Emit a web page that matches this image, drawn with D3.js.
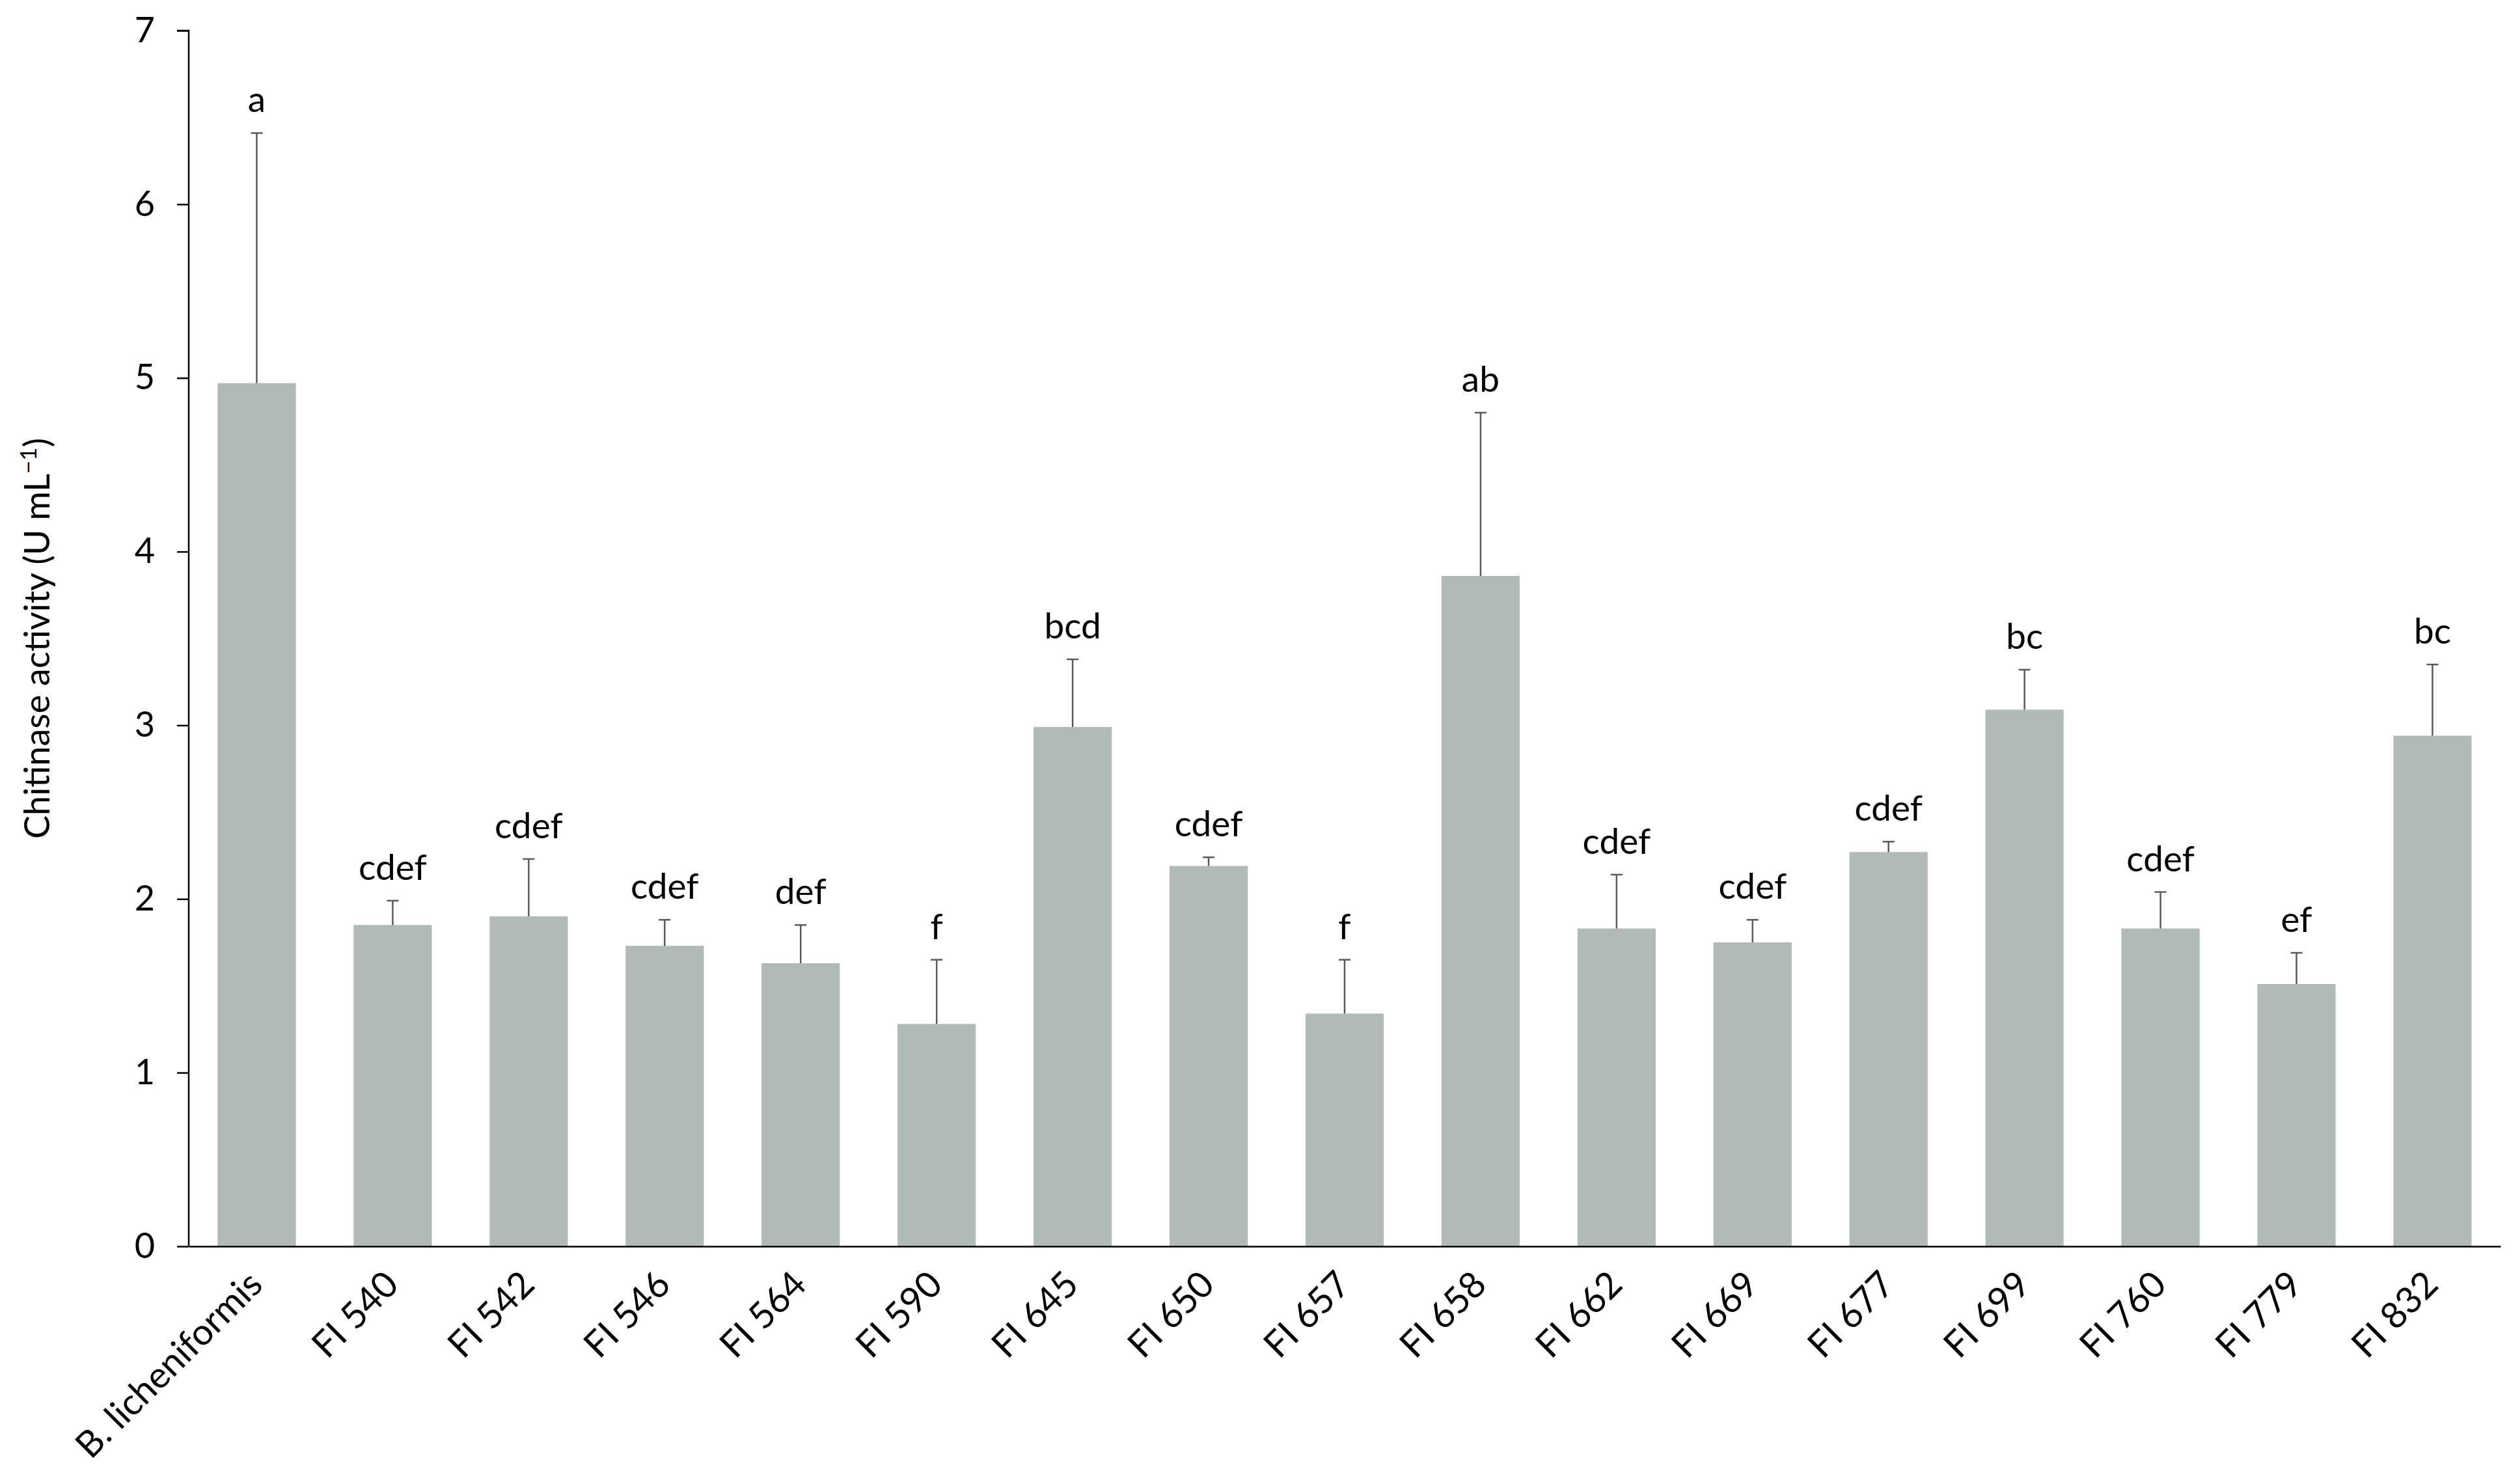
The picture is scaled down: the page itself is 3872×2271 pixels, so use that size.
<!DOCTYPE html>
<html>
<head>
<meta charset="utf-8">
<script src="https://cdn.jsdelivr.net/npm/d3@7"></script>
<style>
  body { margin: 0; background: #fff; }
  svg { display: block; }
  text { font-family: Lato, "Open Sans", sans-serif; fill: #000; }
</style>
</head>
<body>
<div id="chart"></div>
<script>
// strains on the x axis
var strains = ["B. licheniformis", "FI 540", "FI 542", "FI 546", "FI 564", "FI 590", "FI 645", "FI 650",
  "FI 657", "FI 658", "FI 662", "FI 669", "FI 677", "FI 699", "FI 760", "FI 779", "FI 832"];
// mean chitinase activity (U mL-1)
var activity = [4.97, 1.85, 1.90, 1.73, 1.63, 1.28, 2.99, 2.19, 1.34, 3.86, 1.83, 1.75, 2.27, 3.09, 1.83, 1.51, 2.94];
// standard deviation (upper bar only)
var sd = [1.44, 0.14, 0.33, 0.15, 0.22, 0.37, 0.39, 0.05, 0.31, 0.94, 0.31, 0.13, 0.06, 0.23, 0.21, 0.18, 0.41];
// significance letters
var groups = ["a", "cdef", "cdef", "cdef", "def", "f", "bcd", "cdef", "f", "ab", "cdef", "cdef", "cdef", "bc", "cdef", "ef", "bc"];
var yTicks = [0, 1, 2, 3, 4, 5, 6, 7];

var W = 3872, H = 2271;
var margin = { top: 47, right: 30, bottom: 356, left: 290 };
var width = W - margin.left - margin.right;
var height = H - margin.top - margin.bottom;

var data = strains.map(function (s, i) {
  return { name: s, value: activity[i], sd: sd[i], group: groups[i] };
});

var svg = d3.select("#chart").append("svg")
  .attr("width", W)
  .attr("height", H);

var g = svg.append("g")
  .attr("transform", "translate(" + margin.left + "," + margin.top + ")");

var x = d3.scaleBand()
  .domain(strains)
  .range([0, width])
  .paddingInner(0.425)
  .paddingOuter(0.2125);

var y = d3.scaleLinear()
  .domain([0, 7])
  .range([height, 0]);

// bars
g.append("g").attr("class", "bars")
  .selectAll("rect").data(data)
  .enter().append("rect")
  .attr("x", function (d) { return x(d.name); })
  .attr("y", function (d) { return y(d.value); })
  .attr("width", x.bandwidth())
  .attr("height", function (d) { return height - y(d.value); })
  .attr("fill", "#afbab9");

// error bars
var err = g.append("g").attr("class", "errors")
  .selectAll("g").data(data)
  .enter().append("g")
  .attr("stroke", "#5a5a5a")
  .attr("stroke-width", 2.5);
err.append("line")
  .attr("x1", function (d) { return x(d.name) + x.bandwidth() / 2; })
  .attr("x2", function (d) { return x(d.name) + x.bandwidth() / 2; })
  .attr("y1", function (d) { return y(d.value); })
  .attr("y2", function (d) { return y(d.value + d.sd); });
err.append("line")
  .attr("x1", function (d) { return x(d.name) + x.bandwidth() / 2 - 9; })
  .attr("x2", function (d) { return x(d.name) + x.bandwidth() / 2 + 9; })
  .attr("y1", function (d) { return y(d.value + d.sd); })
  .attr("y2", function (d) { return y(d.value + d.sd); });

// letters
g.append("g").attr("class", "letters")
  .selectAll("text").data(data)
  .enter().append("text")
  .attr("x", function (d) { return x(d.name) + x.bandwidth() / 2; })
  .attr("y", function (d) { return y(d.value + d.sd) - 32; })
  .attr("text-anchor", "middle")
  .style("font-size", "55px")
  .text(function (d) { return d.group; });

// y axis
var yAxis = g.append("g")
  .attr("class", "axis axis-y")
  .call(d3.axisLeft(y).tickValues(yTicks).tickSize(18).tickPadding(34).tickFormat(d3.format("d")));
yAxis.select(".domain").attr("d", "M0," + height + "V0H-18").attr("stroke", "#000").attr("stroke-width", 2.5);
yAxis.selectAll(".tick line").attr("stroke", "#000").attr("stroke-width", 2.5);
yAxis.selectAll("text").style("font-size", "54px").attr("font-family", "Lato, sans-serif");

// x axis
var xAxis = g.append("g")
  .attr("class", "axis axis-x")
  .attr("transform", "translate(0," + height + ")")
  .call(d3.axisBottom(x).tickSize(0).tickPadding(0));
xAxis.select(".domain").attr("stroke", "#000").attr("stroke-width", 2.5);
xAxis.selectAll(".tick text")
  .attr("text-anchor", "end")
  .attr("dy", 0)
  .attr("y", 0)
  .attr("transform", "translate(12,62) rotate(-45)")
  .style("font-size", "56px")
  .attr("font-family", "Lato, sans-serif");

// y axis title
var title = svg.append("text")
  .attr("transform", "translate(76," + (margin.top + height / 2) + ") rotate(-90)")
  .attr("text-anchor", "middle")
  .style("font-size", "54px");
title.append("tspan").text("Chitinase activity (U mL");
title.append("tspan").attr("dy", -20).style("font-size", "35px").text("\u22121");
title.append("tspan").attr("dy", 20).text(")");
</script>
</body>
</html>
